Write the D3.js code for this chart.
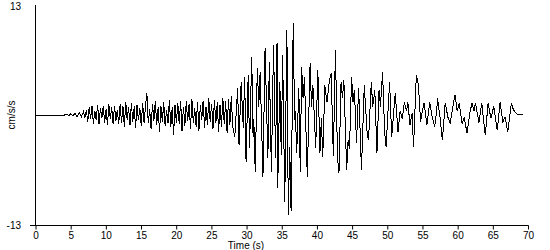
<!DOCTYPE html>
<html>
<head>
<meta charset="utf-8">
<script src="https://cdn.jsdelivr.net/npm/d3@7"></script>
<style>
  body { margin: 0; background: #fff; }
  text { font-family: Arial, "Liberation Sans", sans-serif; }
</style>
</head>
<body>
<div id="chart"></div>
<script>
// Time (s) and acceleration (cm/s/s) turning points
const times = [
  0, 4.2, 4.5, 4.8, 5.1, 5.4, 5.7, 6.0, 6.3, 6.6, 6.9, 7.1,
  7.3, 7.5, 7.7, 7.9, 8.1, 8.3, 8.5, 8.7, 8.9, 9.1, 9.3, 9.5, 9.7, 9.9,
  10.1, 10.3, 10.5, 10.7, 10.9, 11.1, 11.3, 11.5, 11.7, 11.9,
  12.1, 12.3, 12.5, 12.7, 12.9, 13.1, 13.3, 13.5, 13.7, 13.9,
  14.1, 14.3, 14.5, 14.7, 14.9, 15.1, 15.3, 15.5, 15.7, 15.9,
  16.1, 16.3, 16.5, 16.7, 16.9, 17.1, 17.3, 17.5, 17.7, 17.9,
  18.1, 18.3, 18.5, 18.7, 18.9, 19.1, 19.3, 19.5, 19.7, 19.9,
  20.1, 20.3, 20.5, 20.7, 20.9, 21.1, 21.3, 21.5, 21.7, 21.9,
  22.1, 22.3, 22.5, 22.7, 22.9, 23.1, 23.3, 23.5, 23.7, 23.9,
  24.1, 24.3, 24.5, 24.7, 24.9, 25.1, 25.3, 25.5, 25.7, 25.9,
  26.1, 26.3, 26.5, 26.7, 26.9, 27.1, 27.3, 27.5, 27.7, 27.9,
  28.1, 28.4, 28.8, 29.0, 29.3, 29.6, 29.8, 30.0, 30.3, 30.5,
  30.8, 31.0, 31.1, 31.3, 31.6, 31.8, 32.0, 32.4, 32.7, 33.1,
  33.3, 33.6, 33.9, 34.2, 34.4, 34.5, 34.8, 35.0, 35.2, 35.5,
  35.8, 36.0, 36.2, 36.4, 36.7, 36.9, 37.0, 37.2, 37.5, 37.7,
  37.9, 38.1, 38.3, 38.7, 39.1, 39.3, 39.5, 39.9, 40.2, 40.5,
  40.7, 40.9, 41.2, 41.5, 41.8, 42.1, 42.4, 42.7, 43.0, 43.2,
  43.5, 43.7, 43.9, 44.3, 44.5, 44.7, 45.0, 45.2, 45.4, 45.7,
  46.0, 46.4, 46.8, 47.2, 47.4, 47.8, 48.0, 48.3, 48.6, 48.9,
  49.1, 49.4, 49.7, 49.9, 50.4, 50.7, 51.2, 51.6, 51.9, 52.2,
  52.5, 52.8, 53.0, 53.3, 53.6, 53.8, 54.2, 54.5, 54.8, 55.0,
  55.3, 55.7, 56.1, 56.4, 56.8, 57.1, 57.2, 57.6, 57.9, 58.3,
  58.7, 59.0, 59.4, 59.7, 60.0, 60.3, 60.7, 61.0, 61.4, 61.8,
  62.1, 62.4, 62.6, 63.1, 63.5, 64.0, 64.4, 64.8, 65.2, 65.7,
  66.1, 66.5, 66.8, 67.2, 67.7, 68.0, 68.4, 68.7, 69.0, 69.3
];
const accel = [
  0, 0, 0.1, -0.1, 0.15, -0.1, 0.2, -0.2, 0.3, -0.2, 0.4, -0.3,
  0.6, -0.8, 0.9, -0.5, 1.1, -1.0, 0.5, -0.6, 1.2, -1.1, 0.8, -0.4, 1.0, -0.9,
  0.7, -1.2, 1.3, -0.5, 0.9, -1.0, 1.1, -0.7, 0.6, -1.1,
  1.3, -0.9, 1.0, -1.4, 1.5, -0.6, 0.9, -1.2, 1.4, -0.8,
  1.0, -1.5, 1.2, -0.6, 0.8, -1.3, 1.4, -0.9, 1.0, 2.6,
  -1.0, 0.7, -1.6, 1.3, -0.7, 1.6, -1.2, 0.9, -2.0, 1.1,
  -0.8, 1.5, -1.3, 0.6, -1.0, 1.8, -1.4, 0.9, -2.4, 1.2,
  -0.9, 1.4, -1.1, 1.7, -1.9, 1.0, -1.3, 1.6, -0.7, 1.3,
  -1.6, 1.9, -1.0, 0.8, -1.4, 1.5, -1.9, 1.2, -0.6, 1.7,
  -1.5, 1.0, -1.2, 2.0, -0.8, 1.3, -1.6, 1.8, -1.0, 1.5,
  -2.0, 1.2, -1.4, 2.0, -1.1, 1.6, -2.1, 1.9, -1.2, 2.2,
  -1.4, -2.6, 3.2, -3.5, 3.9, -1.5, 4.5, -5.6, 4.7, -3.9,
  6.9, -2.6, -0.5, -6.7, 5.6, 1.0, 5.1, -7.3, 7.9, -5.1,
  6.3, -6.7, 8.3, -5.1, 8.5, -8.6, 3.9, -4.7, 7.1, -10.3,
  10.0, -11.8, -3.8, -11.4, 10.9, -0.6, 0.5, -4.5, 3.2, -6.7,
  5.7, 2.0, 4.5, -7.3, 6.1, 1.0, 3.5, -3.9, 5.3, -4.5,
  -0.4, -5.0, 3.5, 1.5, 3.8, 5.0, -4.9, 7.7, -5.1, -6.9,
  3.9, 2.0, 4.1, -6.5, -3.0, -4.0, 4.5, 1.5, 3.0, -3.3,
  3.2, -6.5, 3.5, -2.0, -3.0, 3.9, 1.0, 2.9, -4.5, 3.0,
  1.0, 5.1, -2.1, -3.8, 3.9, -2.6, 2.6, -2.0, 0.5, -0.5,
  1.5, 0.5, 1.5, -1.2, 0.2, -3.8, 4.7, 3.5, -0.8, 0.2,
  1.4, -1.2, 1.5, 0.0, -1.4, 0.5, 2.0, -0.5, -3.0, 1.4,
  -0.3, -1.0, 1.0, 2.4, 0.5, 1.4, -1.0, -0.3, -2.1, 0.2,
  1.4, 0.5, 1.4, -0.9, 1.4, -2.4, 1.4, -0.4, 1.0, -1.8,
  1.5, -0.8, -0.2, -2.0, 1.4, 0.6, 0.2, 0.0, 0.1, 0.0
];
const xTicks = [0, 5, 10, 15, 20, 25, 30, 35, 40, 45, 50, 55, 60, 65, 70];
const yLimit = 13;

const width = 550;
const height = 250;
const margin = { top: 5, right: 22, bottom: 25, left: 35 };

const svg = d3.select("#chart")
    .append("svg")
    .attr("width", width)
    .attr("height", height);

const x = d3.scaleLinear()
    .domain([0, 70])
    .range([margin.left, width - margin.right - 0.5]);

const y = d3.scaleLinear()
    .domain([-yLimit, yLimit])
    .range([height - margin.bottom, margin.top]);

const points = times.map((t, i) => [t, accel[i]]);

// Trace (aliased like the original plot)
svg.append("path")
    .datum(points)
    .attr("fill", "none")
    .attr("stroke", "#000")
    .attr("stroke-width", 1)
    .attr("shape-rendering", "crispEdges")
    .attr("d", d3.line().x(d => x(d[0])).y(d => y(d[1])));

// Axes lines
svg.append("line")
    .attr("x1", x(0) + 0.5).attr("x2", x(0) + 0.5)
    .attr("y1", y(yLimit)).attr("y2", y(-yLimit))
    .attr("stroke", "#000");

svg.append("line")
    .attr("x1", x(0) - 5).attr("x2", x(70) + 1)
    .attr("y1", y(-yLimit) + 0.5).attr("y2", y(-yLimit) + 0.5)
    .attr("stroke", "#000");

// X axis ticks and labels
const xAxis = svg.append("g")
    .attr("transform", `translate(0.5,${y(-yLimit) + 0.5})`)
    .call(d3.axisBottom(x).tickValues(xTicks).tickSize(4).tickPadding(2).tickFormat(d3.format("d")));
xAxis.select(".domain").remove();
xAxis.selectAll("text")
    .style("font-size", "10px")
    .attr("fill", "#000");

// Y limit labels
svg.append("text")
    .attr("x", 21).attr("y", y(yLimit) + 5)
    .attr("text-anchor", "end")
    .style("font-size", "10px")
    .text(yLimit);

svg.append("text")
    .attr("x", 21).attr("y", y(-yLimit) + 4)
    .attr("text-anchor", "end")
    .style("font-size", "10px")
    .text(-yLimit);

// Axis titles
svg.append("text")
    .attr("transform", `translate(15,${y(0)}) rotate(-90)`)
    .attr("text-anchor", "middle")
    .style("font-size", "10px")
    .text("cm/s/s");

svg.append("text")
    .attr("x", 246).attr("y", 249)
    .attr("text-anchor", "middle")
    .style("font-size", "10px")
    .text("Time (s)");
</script>
</body>
</html>
